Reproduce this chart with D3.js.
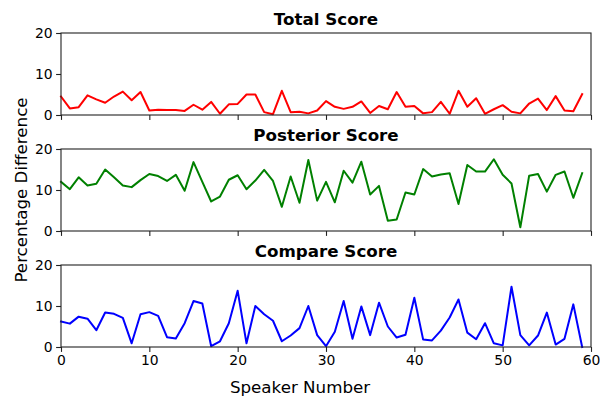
<!DOCTYPE html>
<html><head><meta charset="utf-8">
<script src="https://cdn.jsdelivr.net/npm/d3@7"></script>
<style>body{margin:0;background:#fff}svg{display:block}text{font-family:"DejaVu Sans",sans-serif}</style>
</head><body>
<svg id="c" width="600" height="401"></svg>
<script>
const speakers = d3.range(0, 60);
const totalScore = [4.5,1.6,1.9,4.8,3.8,3.0,4.5,5.7,3.6,5.6,1.1,1.3,1.2,1.2,1.0,2.5,1.3,3.2,0.3,2.6,2.7,5.0,5.0,0.7,0.2,5.9,0.7,0.8,0.4,1.1,3.4,2.0,1.5,2.0,3.3,0.5,2.2,1.4,5.6,2.0,2.2,0.4,0.7,3.2,0.3,5.9,2.0,4.1,0.3,1.4,2.4,0.8,0.4,2.8,4.0,1.2,4.6,1.1,0.9,5.1];
const posteriorScore = [12.0,10.2,13.1,11.1,11.5,15.0,13.1,11.1,10.7,12.4,13.9,13.4,12.2,13.7,9.8,16.8,12.0,7.2,8.4,12.5,13.6,10.2,12.3,14.9,12.2,5.9,13.3,6.9,17.3,7.4,12.0,7.0,14.7,11.8,16.9,8.9,11.0,2.5,2.8,9.4,8.9,15.1,13.3,13.8,14.1,6.6,16.1,14.5,14.5,17.5,13.7,11.6,0.9,13.5,13.9,9.6,13.7,14.5,8.1,14.1];
const compareScore = [6.2,5.7,7.4,6.9,4.1,8.4,8.1,7.1,0.9,8.0,8.5,7.6,2.4,2.1,5.8,11.2,10.6,0.2,1.4,5.8,13.7,0.9,10.0,8.0,6.4,1.4,2.8,4.6,10.0,2.9,0.2,3.7,11.2,2.0,9.9,2.9,10.8,5.0,2.3,3.0,12.0,1.8,1.6,4.0,7.2,11.6,3.5,1.9,5.8,0.9,0.4,14.7,2.9,0.4,2.8,8.4,0.6,2.0,10.4,0.0];
const panelTitles = ["Total Score","Posterior Score","Compare Score"];
const panelColors = ["#ff0000","#008000","#0000ff"];
const xTicks = [0,10,20,30,40,50,60];
const yTicks = [0,10,20];

const svg = d3.select("#c");
const left = 61, right = 591;
const tops = [33, 149, 265], ph = 82;
const x = d3.scaleLinear().domain([0,60]).range([left,right]);
const series = [totalScore, posteriorScore, compareScore];

series.forEach((vals, i) => {
  const top = tops[i];
  const y = d3.scaleLinear().domain([0,20]).range([top+ph, top]);
  const g = svg.append("g");
  const line = d3.line().x((d,j)=>x(speakers[j])).y(d=>y(d));
  g.append("path").datum(vals).attr("d", line)
    .attr("fill","none").attr("stroke", panelColors[i]).attr("stroke-width",2)
    .attr("stroke-linejoin","round").attr("stroke-linecap","square");
  // frame
  g.append("rect").attr("x",left).attr("y",top).attr("width",right-left).attr("height",ph)
    .attr("fill","none").attr("stroke","#222").attr("stroke-width",1.1);
  const xa = d3.axisBottom(x).tickValues(xTicks).tickSize(4.9).tickPadding(3.5)
    .tickFormat(i===2 ? d3.format("d") : ()=>"");
  const gx = g.append("g").attr("transform",`translate(0,${top+ph})`).call(xa);
  const ya = d3.axisLeft(y).tickValues(yTicks).tickSize(4.9).tickPadding(3.5).tickFormat(d3.format("d"));
  const gy = g.append("g").attr("transform",`translate(${left},0)`).call(ya);
  [gx,gy].forEach(a=>{
    a.select(".domain").remove();
    a.selectAll("line").attr("stroke","#222").attr("stroke-width",1.1);
    a.selectAll("text").attr("font-size","13.9px").attr("fill","#000").style("font-family","DejaVu Sans");
  });
  g.append("text").attr("x",(left+right)/2).attr("y",top-8)
    .attr("text-anchor","middle").attr("font-size","16.7px").attr("font-weight","bold")
    .text(panelTitles[i]);
});

svg.append("text").attr("x",300).attr("y",393).attr("text-anchor","middle")
  .attr("font-size","16.7px").text("Speaker Number");
svg.append("text").attr("transform","translate(27,190) rotate(-90)").attr("text-anchor","middle")
  .attr("font-size","16.7px").text("Percentage Difference");
</script>
</body></html>
